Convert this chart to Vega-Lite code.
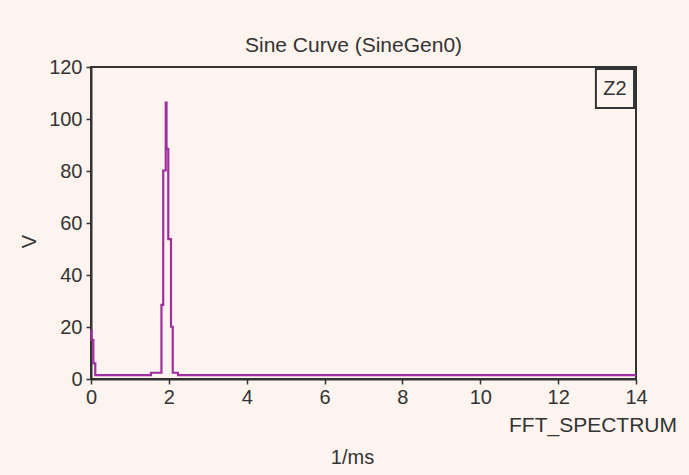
{
  "$schema": "https://vega.github.io/schema/vega-lite/v6.json",
  "autosize": {"type": "none"},
  "padding": {"left": 91, "top": 67, "right": 53, "bottom": 96},
  "width": 545,
  "height": 312,
  "background": "#fdf4ef",
  "title": {
    "text": "Sine Curve (SineGen0)",
    "font": "Liberation Sans",
    "fontSize": 21,
    "fontWeight": "normal",
    "color": "#333333",
    "anchor": "middle",
    "frame": "group",
    "baseline": "alphabetic",
    "offset": 13,
    "dx": -10,
    "dy": 29
  },
  "config": {
    "view": {"stroke": "#333333", "strokeWidth": 2, "fill": "#fdf4ef"},
    "axis": {
      "labelFont": "Liberation Sans",
      "labelFontSize": 20,
      "labelColor": "#333333",
      "titleFont": "Liberation Sans",
      "titleFontSize": 20,
      "titleFontWeight": "normal",
      "titleColor": "#333333",
      "tickColor": "#333333",
      "tickSize": 5,
      "tickWidth": 1.5,
      "domainColor": "#333333",
      "domainWidth": 2,
      "grid": false,
      "labelFlush": false,
      "labelOverlap": false,
      "labelBound": false
    }
  },
  "layer": [
    {
      "data": {
        "values": [
          {"f": 0, "v": 18.8},
          {"f": 0.015, "v": 15},
          {"f": 0.06, "v": 6},
          {"f": 0.11, "v": 1.5},
          {"f": 1.54, "v": 2.4},
          {"f": 1.81, "v": 28.5},
          {"f": 1.855, "v": 80.2},
          {"f": 1.92, "v": 106.3},
          {"f": 1.94, "v": 88.5},
          {"f": 1.985, "v": 53.8},
          {"f": 2.055, "v": 20.1},
          {"f": 2.1, "v": 2.4},
          {"f": 2.235, "v": 1.5},
          {"f": 14, "v": 1.5}
        ]
      },
      "mark": {"type": "line", "interpolate": "step-after", "color": "#a12ea1", "strokeWidth": 2.2},
      "encoding": {
        "x": {
          "field": "f",
          "type": "quantitative",
          "scale": {"domain": [0, 14], "nice": false, "zero": false},
          "axis": {
            "values": [0, 2, 4, 6, 8, 10, 12, 14],
            "labelPadding": 3,
            "title": "1/ms",
            "titleX": 261,
            "titleY": 84,
            "titleAlign": "center",
            "titleBaseline": "alphabetic"
          }
        },
        "y": {
          "field": "v",
          "type": "quantitative",
          "scale": {"domain": [0, 120], "nice": false},
          "axis": {
            "values": [0, 20, 40, 60, 80, 100, 120],
            "labelPadding": 4,
            "title": "V",
            "titleAngle": -90,
            "titleX": -62,
            "titleY": 174,
            "titleAlign": "center",
            "titleBaseline": "middle"
          }
        }
      }
    },
    {
      "data": {"values": [{"label": "FFT_SPECTRUM"}]},
      "mark": {"type": "text", "font": "Liberation Sans", "fontSize": 21, "fontWeight": "normal", "fill": "#333333", "align": "right", "baseline": "alphabetic", "dx": 41, "dy": 53},
      "encoding": {"x": {"datum": 14}, "y": {"datum": 0}, "text": {"field": "label"}}
    },
    {
      "data": {"values": [{"label": "Z2"}]},
      "mark": {"type": "rect", "fill": null, "stroke": "#333333", "strokeWidth": 2},
      "encoding": {"x": {"datum": 12.97}, "x2": {"datum": 13.95}, "y": {"datum": 119.2}, "y2": {"datum": 104.2}}
    },
    {
      "data": {"values": [{"label": "Z2"}]},
      "mark": {"type": "text", "font": "Liberation Sans", "fontSize": 20, "fontWeight": "normal", "fill": "#333333", "align": "center", "baseline": "middle"},
      "encoding": {"x": {"datum": 13.46}, "y": {"datum": 111.4}, "text": {"field": "label"}}
    }
  ]
}
